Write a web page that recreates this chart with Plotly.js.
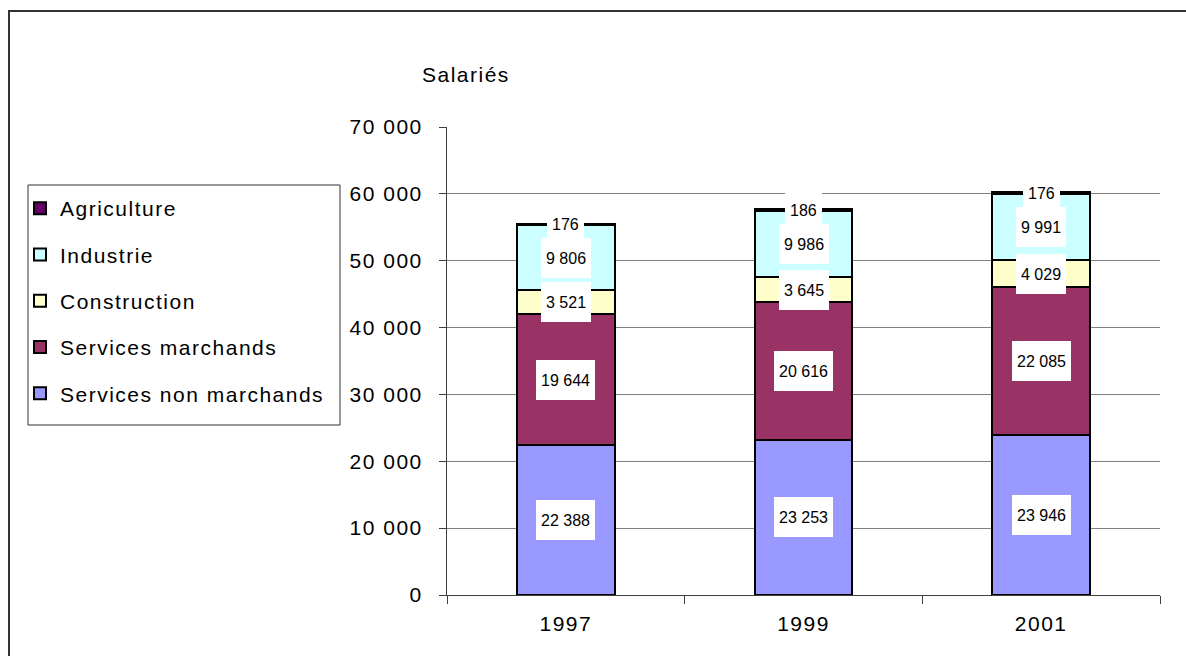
<!DOCTYPE html>
<html>
<head>
<meta charset="utf-8">
<script src="https://cdn.plot.ly/plotly-3.0.1.min.js"></script>
<style>
html,body{margin:0;padding:0;background:#fff;}
#chart{width:1186px;height:656px;}
.xtick text, .ytick text, .legendtext, .gtitle { letter-spacing: 1.5px; }
</style>
</head>
<body>
<div id="chart"></div>
<script>
const years = ['1997', '1999', '2001'];
const servicesNonMarchands = [22388, 23253, 23946];
const servicesMarchands = [19644, 20616, 22085];
const construction = [3521, 3645, 4029];
const industrie = [9806, 9986, 9991];
const agriculture = [176, 186, 176];

const seriesNames = ['Services non marchands', 'Services marchands', 'Construction', 'Industrie', 'Agriculture'];
const seriesColors = ['#9999FF', '#993366', '#FFFFCC', '#CCFFFF', '#660066'];
const seriesValues = [servicesNonMarchands, servicesMarchands, construction, industrie, agriculture];

const yTickVals = [0, 10000, 20000, 30000, 40000, 50000, 60000, 70000];
const yTickText = ['0', '10 000', '20 000', '30 000', '40 000', '50 000', '60 000', '70 000'];

const FONT = 'Arial, "Liberation Sans", sans-serif';

function fmt(v) {
  return String(v).replace(/\B(?=(\d{3})+(?!\d))/g, ' ');
}

const traces = seriesNames.map((name, i) => ({
  type: 'bar',
  name: name,
  x: years,
  y: seriesValues[i],
  legendgroup: 'g' + i,
  legendrank: seriesNames.length - i,
  marker: {color: seriesColors[i], line: {color: '#000', width: 2}},
  hoverinfo: 'skip'
}));

const annotations = [];
const cum = years.map(() => 0);
seriesValues.forEach((vals) => {
  vals.forEach((v, j) => {
    const mid = cum[j] + v / 2;
    cum[j] += v;
    annotations.push({
      x: j, y: mid, xref: 'x', yref: 'y',
      text: fmt(v), showarrow: false,
      bgcolor: '#fff', borderpad: 5, borderwidth: 0, height: 30,
      font: {family: FONT, size: 16, color: '#000'}
    });
  });
});

const xBorderL = (9 - 447) / 713;
const xBorderR = (1195 - 447) / 713;
const yBorderT = (595 - 11) / 468;
const yBorderB = (595 - 665) / 468;
const xLegL = (28 - 447) / 713;
const xLegR = (340 - 447) / 713;
const yLegT = (595 - 185) / 468;
const yLegB = (595 - 425) / 468;

const layout = {
  width: 1186, height: 656,
  margin: {l: 447, r: 26, t: 127, b: 61},
  paper_bgcolor: '#fff', plot_bgcolor: '#fff',
  barmode: 'stack',
  bargap: 0.59,
  showlegend: true,
  font: {family: FONT, size: 21, color: '#000'},
  title: {
    text: 'Salariés', xref: 'container', yref: 'container',
    x: 422 / 1186, xanchor: 'left', y: 1 - 75 / 656, yanchor: 'middle',
    font: {family: FONT, size: 21, color: '#000'}
  },
  legend: {
    xref: 'container', yref: 'container',
    x: 20 / 1186, xanchor: 'left', y: 1 - 188 / 656, yanchor: 'top',
    traceorder: 'grouped', tracegroupgap: 16,
    borderwidth: 0, bgcolor: 'rgba(0,0,0,0)',
    font: {family: FONT, size: 21, color: '#000'},
    itemwidth: 30
  },
  xaxis: {
    type: 'category',
    range: [-0.5, 2.5],
    showline: true, linecolor: '#404040', linewidth: 1,
    ticks: 'outside', ticklen: 8, tickcolor: '#404040', tickson: 'boundaries',
    ticklabelstandoff: 10,
    showgrid: false, zeroline: false,
    tickfont: {family: FONT, size: 21, color: '#000'}
  },
  yaxis: {
    range: [0, 70000],
    tickvals: yTickVals, ticktext: yTickText,
    showline: true, linecolor: '#404040', linewidth: 1,
    ticks: 'outside', ticklen: 7, tickcolor: '#404040',
    ticklabelstandoff: 12,
    showgrid: true, gridcolor: '#808080', gridwidth: 1,
    zeroline: false,
    tickfont: {family: FONT, size: 21, color: '#000'}
  },
  annotations: annotations,
  shapes: [{
    type: 'rect', xref: 'paper', yref: 'paper',
    x0: xBorderL, x1: xBorderR, y0: yBorderB, y1: yBorderT,
    line: {color: '#333', width: 2}, layer: 'below'
  }, {
    type: 'rect', xref: 'paper', yref: 'paper',
    x0: xLegL, x1: xLegR, y0: yLegB, y1: yLegT,
    line: {color: '#333', width: 1}, layer: 'below'
  }]
};

Plotly.newPlot('chart', traces, layout, {displayModeBar: false, staticPlot: true});
</script>
</body>
</html>
